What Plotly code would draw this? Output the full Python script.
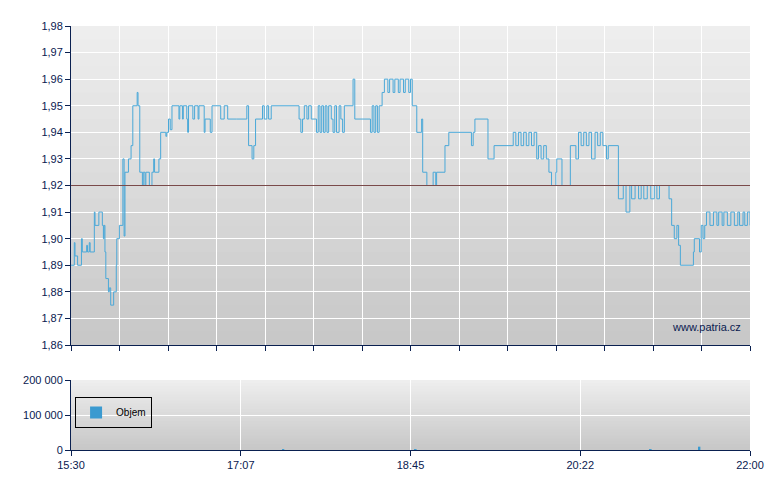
import plotly.graph_objects as go

# price data: minutes after 15:30, price (step line)
minutes = [0, 1.9, 2.3, 3.8, 6.0, 6.5, 9, 9.5, 10.5, 11, 13.4, 13.8, 16, 18, 18.6, 19, 19.5, 20,
           21.5, 22, 22.8, 24.5, 26, 26.3, 27.8, 29.8, 30.5, 31, 33, 34.5, 35.5, 38, 38.5, 39.5,
           41, 41.5, 42.5, 43, 45, 46.5, 47.5, 48, 50.5, 51.5, 54.5, 55, 56, 57, 58,
           62, 62.5, 64, 64.5, 66.5, 67, 67.5, 70, 71, 73, 73.5, 76.5, 77, 80, 81, 86, 88, 90,
           95, 101, 102, 104, 105, 106, 108.6, 110, 111, 112.5, 113.5, 115, 116,
           131, 132, 133, 134, 135.5, 136.5, 138, 139, 141, 142, 143, 144, 145, 146, 147, 148,
           149.5, 150.5, 151.5, 152.5, 154, 155, 156, 157, 162, 163, 172, 173, 174, 175, 176, 177,
           178.7, 180, 182, 183, 185, 186, 188, 189, 191, 192, 194, 195, 196, 197, 198.6, 201.4,
           202, 204.4, 208, 209.5, 210, 214.8, 217, 230, 231, 232, 239.5, 243, 254, 255.5, 257,
           258.5, 260, 261.5, 263, 264.5, 266, 267.5, 268.5, 270, 271.5, 273, 274.5, 276, 278.5,
           279, 282, 286.8, 290, 291.5, 293, 294.5, 296, 297.5, 299, 301, 302.5, 304, 305.5, 307.6,
           308.6, 314.4, 317.2, 318.8, 321, 322, 324, 326, 327.5, 329, 331, 333, 335, 336.5, 338,
           343.5, 345, 346.5, 348, 349, 350, 357.5, 358, 361, 362, 363, 364, 365, 367, 369, 371,
           372, 374, 375, 377, 379, 381, 383, 384, 386, 387, 388.5, 390]
prices = [1.890, 1.8985, 1.8935, 1.890, 1.900, 1.895, 1.8975, 1.895, 1.8985, 1.895, 1.910, 1.905,
          1.910, 1.905, 1.900, 1.905, 1.895, 1.885, 1.880, 1.8815, 1.875, 1.880, 1.890, 1.900, 1.905,
          1.930, 1.901, 1.925, 1.930, 1.935, 1.950, 1.955, 1.950, 1.925, 1.920, 1.925, 1.920, 1.925,
          1.920, 1.925, 1.930, 1.925, 1.930, 1.940, 1.9385, 1.940, 1.945, 1.941, 1.950,
          1.945, 1.950, 1.945, 1.950, 1.945, 1.940, 1.950, 1.945, 1.950, 1.945, 1.950, 1.940, 1.945,
          1.940, 1.950, 1.945, 1.950, 1.945, 1.945, 1.950, 1.935, 1.930, 1.935, 1.945, 1.945, 1.950,
          1.945, 1.950, 1.945, 1.950, 1.950,
          1.945, 1.940, 1.945, 1.950, 1.945, 1.950, 1.945, 1.945, 1.940, 1.950, 1.940, 1.950, 1.940,
          1.950, 1.940, 1.950, 1.945, 1.940, 1.950, 1.940, 1.950, 1.945, 1.940, 1.950, 1.960, 1.945,
          1.940, 1.950, 1.940, 1.950, 1.940, 1.950, 1.955, 1.960, 1.955, 1.960, 1.955, 1.960, 1.955,
          1.960, 1.955, 1.960, 1.955, 1.960, 1.950, 1.950, 1.940, 1.945, 1.925, 1.920, 1.925, 1.920,
          1.925, 1.935, 1.940, 1.935, 1.940, 1.945, 1.930, 1.935, 1.940, 1.935, 1.940, 1.935, 1.940,
          1.935, 1.940, 1.935, 1.940, 1.930, 1.935, 1.930, 1.935, 1.930, 1.925, 1.920, 1.925, 1.930,
          1.920, 1.935, 1.930, 1.940, 1.935, 1.940, 1.935, 1.940, 1.930, 1.940, 1.935, 1.940, 1.935,
          1.930, 1.935, 1.915, 1.920, 1.910, 1.920, 1.915, 1.920, 1.915, 1.920, 1.915, 1.920, 1.915,
          1.920, 1.915, 1.920, 1.915, 1.905, 1.900, 1.905, 1.8975, 1.890, 1.895, 1.900, 1.895, 1.905,
          1.900, 1.905, 1.910, 1.905, 1.910, 1.905, 1.910, 1.905, 1.910, 1.905, 1.910, 1.905, 1.910,
          1.905, 1.910, 1.905, 1.910, 1.905, 1.910, 1.905]

vol_minutes = [122, 198, 333, 361]
volumes = [1500, 1500, 1500, 9500]

reference_price = 1.92
main_ticks = [i * 390 / 14 for i in range(15)]
vol_ticks = [0, 97.5, 195, 292.5, 390]
vol_labels = ['15:30', '17:07', '18:45', '20:22', '22:00']

navy = '#0a2050'
fig = go.Figure()
fig.add_trace(go.Scatter(x=minutes, y=prices, mode='lines', line=dict(color='#4aa8d8', width=1, shape='hv'),
                         showlegend=False, xaxis='x', yaxis='y'))
fig.add_trace(go.Bar(x=vol_minutes, y=volumes, name='Objem', marker=dict(color='#3a9ad0', line=dict(width=0)),
                     width=1, xaxis='x2', yaxis='y2'))

# grey gradient background for both panels
shapes = []
n = 24
for ax in ['', '2']:
    for i in range(n):
        c = int(238 - (238 - 200) * i / (n - 1))
        shapes.append(dict(type='rect', xref='x%s domain' % ax, yref='y%s domain' % ax,
                           x0=0, x1=1, y0=max(0, 1 - (i + 1.3) / n), y1=1 - i / n, layer='below',
                           line=dict(width=0), fillcolor='rgb(%d,%d,%d)' % (c, c, c)))
shapes.append(dict(type='line', xref='x domain', yref='y', x0=0, x1=1, y0=reference_price, y1=reference_price,
                   line=dict(color='#7a4a4a', width=1)))

axis_common = dict(showline=True, linecolor=navy, linewidth=1, gridcolor='white', gridwidth=1,
                   ticks='outside', tickcolor=navy, ticklen=5, zeroline=False,
                   tickfont=dict(color=navy, size=11))
fig.update_layout(
    width=780, height=490, margin=dict(l=63, r=38, t=18, b=48),
    paper_bgcolor='white', plot_bgcolor='rgba(0,0,0,0)', separators=', ',
    font=dict(family='Liberation Sans', size=11, color=navy),
    shapes=shapes,
    xaxis=dict(axis_common, domain=[0, 1], range=[0, 390], tickvals=main_ticks, showticklabels=False,
               anchor='y'),
    yaxis=dict(axis_common, domain=[0.2476, 1], range=[1.86, 1.98], dtick=0.01, tickformat='.2f',
               anchor='x'),
    xaxis2=dict(axis_common, domain=[0, 1], range=[0, 390], tickvals=vol_ticks, ticktext=vol_labels,
                anchor='y2'),
    yaxis2=dict(axis_common, domain=[0, 0.165], range=[0, 200000], tickvals=[0, 100000, 200000],
                tickformat=',d', anchor='x2'),
    legend=dict(x=0.006, y=0.125, xanchor='left', yanchor='top', bordercolor='black', borderwidth=1,
                bgcolor='rgba(0,0,0,0)', font=dict(size=10, color='black'), itemwidth=30,
                tracegroupgap=0),
    annotations=[dict(text='www.patria.cz', xref='x domain', yref='y domain', x=0.99, y=0.03,
                      xanchor='right', yanchor='bottom', showarrow=False,
                      font=dict(size=11, color=navy))],
)
fig.write_html('out.html')
